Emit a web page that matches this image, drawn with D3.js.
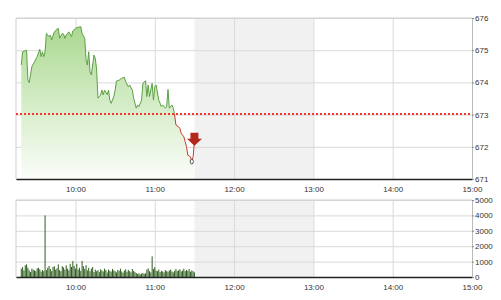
<!DOCTYPE html>
<html>
<head>
<meta charset="utf-8">
<script src="https://cdn.jsdelivr.net/npm/d3@7"></script>
<style>
  body { margin: 0; background: #fff; }
  svg { display: block; font-family: "Liberation Sans", Arial, sans-serif; }
  .tick text { font-size: 8px; fill: #333; }
</style>
</head>
<body>
<div id="chart"></div>
<script>
// price readings, [time, value]
const priceTimes = ["9:19","9:20","9:23","9:24","9:25","9:27","9:29","9:31","9:33","9:34","9:35","9:36","9:37","9:38",
  "9:40","9:41","9:42","9:44","9:46","9:47","9:48","9:50","9:51","9:52","9:53","9:55","9:57","9:58","10:00","10:02",
  "10:04","10:05","10:07","10:08","10:09","10:10","10:11","10:12","10:14","10:15","10:16","10:17","10:19","10:20",
  "10:21","10:22","10:24","10:25","10:26","10:27","10:29","10:30","10:31","10:33","10:35","10:37","10:38","10:40",
  "10:41","10:43","10:44","10:46","10:47","10:48","10:50","10:51","10:53","10:54","10:55","10:56","10:58","10:59",
  "11:00","11:01","11:03","11:05","11:06","11:08","11:09","11:10","11:11","11:13","11:14","11:15","11:16","11:18",
  "11:19","11:20","11:22","11:23","11:24","11:25","11:27","11:28","11:29","11:30"];
const priceValues = [674.54,674.95,675.0,674.07,673.99,674.49,674.64,674.8,675.03,674.8,674.95,674.8,674.95,675.52,
  675.42,675.47,675.32,675.57,675.65,675.68,675.37,675.52,675.5,675.37,675.47,675.57,675.42,675.6,675.68,675.71,
  675.73,675.52,675.37,674.7,674.54,674.95,674.33,674.23,674.85,674.75,674.39,673.51,673.61,673.76,
  673.61,673.76,673.62,673.76,673.45,673.35,673.56,673.76,674.04,674.07,674.13,674.16,674.02,673.86,
  673.92,673.76,673.51,673.2,673.3,673.25,673.45,673.97,674.05,673.56,673.92,673.56,673.97,673.45,
  673.86,673.92,673.45,673.25,673.3,673.2,673.25,673.78,673.2,673.3,673.2,672.99,672.68,672.62,
  672.57,672.42,672.31,672.16,672.0,671.74,671.69,671.54,671.69,672.16];
const refPrice = 673.03;

// volume, one bar per minute from volStart
const volStart = "9:19";
const volumes = [540,650,430,760,820,600,430,320,540,470,430,380,560,600,500,350,450,380,
  4000,
  450,600,720,520,380,650,700,480,560,820,450,380,700,620,480,760,540,430,860,650,
  1040,
  720,540,860,480,600,400,
  1040,
  700,520,760,430,600,380,540,650,320,480,
  380,450,320,500,420,360,540,450,300,480,400,350,520,430,380,300,460,400,540,360,280,420,500,340,460,380,300,520,400,320,
  260,200,240,170,220,260,200,240,
  480,560,380,300,
  1340,
  520,640,420,380,480,320,400,360,300,450,380,340,420,480,360,300,400,520,380,440,500,360,420,540,380,460,400,520,340,420,380,300];

const hourTicks = ["10:00","11:00","12:00","13:00","14:00","15:00"];
const priceTicks = [671,672,673,674,675,676];
const volTicks = [0,1000,2000,3000,4000,5000];
const breakStart = "11:30", breakEnd = "13:00";

const t = s => { const [h, m] = s.split(":").map(Number); return new Date(2017, 0, 1, h, m); };

const width = 501, height = 300;
const left = 16, right = 472;

const svg = d3.select("#chart").append("svg")
  .attr("width", width).attr("height", height);

const x = d3.scaleTime().domain([t("9:15"), t("15:00")]).range([left, right]);
const y = d3.scaleLinear().domain([671, 676]).range([179, 18]);
const yv = d3.scaleLinear().domain([0, 5000]).range([277, 200]);

// frame, lunch shading and grid for one panel
function panel(ys, ticks) {
  const [y0, y1] = ys.range();
  const g = svg.append("g");
  g.append("rect")
    .attr("x", x(t(breakStart))).attr("y", y1)
    .attr("width", x(t(breakEnd)) - x(t(breakStart))).attr("height", y0 - y1)
    .attr("fill", "#f1f1f1");

  g.append("g").attr("transform", `translate(${left},0)`)
    .call(d3.axisLeft(ys).tickValues(ticks).tickSize(-(right - left)).tickFormat(""))
    .call(a => a.select(".domain").remove())
    .selectAll("line").attr("stroke", "#d9d9d9");

  g.append("g").attr("transform", `translate(0,${y0})`)
    .call(d3.axisBottom(x).tickValues(hourTicks.map(t)).tickSize(-(y0 - y1)).tickFormat(""))
    .call(a => a.select(".domain").remove())
    .selectAll("line").attr("stroke", "#d9d9d9");

  g.append("line").attr("x1", left).attr("x2", left).attr("y1", y1).attr("y2", y0).attr("stroke", "#cfcfcf");
  g.append("line").attr("x1", left).attr("x2", right).attr("y1", y1).attr("y2", y1).attr("stroke", "#cfcfcf");
  return g;
}

function axes(ys, ticks, fmt) {
  const [y0] = ys.range();
  const ax = svg.append("g").attr("transform", `translate(0,${y0})`)
    .call(d3.axisBottom(x).tickValues(hourTicks.map(t)).tickSize(0).tickPadding(7.5)
      .tickFormat(d3.timeFormat("%H:%M")));
  ax.select(".domain").attr("stroke", "#222").attr("stroke-width", 1.3);

  const ay = svg.append("g").attr("transform", `translate(${right},0)`)
    .call(d3.axisRight(ys).tickValues(ticks).tickSize(2).tickPadding(1).tickFormat(fmt));
  ay.select(".domain").attr("stroke", "#bbb");
  ay.selectAll("line").attr("stroke", "#888");
}

panel(y, priceTicks);
panel(yv, volTicks);

// price area
const data = priceTimes.map((s, i) => ({ t: t(s), v: priceValues[i] }));

const defs = svg.append("defs");
const grad = defs.append("linearGradient").attr("id", "fillGrad")
  .attr("gradientUnits", "userSpaceOnUse")
  .attr("x1", 0).attr("x2", 0).attr("y1", y(676)).attr("y2", y(671));
grad.append("stop").attr("offset", "0%").attr("stop-color", "#a6d68a");
grad.append("stop").attr("offset", "55%").attr("stop-color", "#d6edc9");
grad.append("stop").attr("offset", "100%").attr("stop-color", "#fbfdf9");

defs.append("clipPath").attr("id", "above").append("rect")
  .attr("x", 0).attr("y", 0).attr("width", width).attr("height", y(refPrice));
defs.append("clipPath").attr("id", "below").append("rect")
  .attr("x", 0).attr("y", y(refPrice)).attr("width", width).attr("height", height);

svg.append("path").datum(data)
  .attr("d", d3.area().x(d => x(d.t)).y0(y(671)).y1(d => y(d.v)))
  .attr("fill", "url(#fillGrad)");

const line = d3.line().x(d => x(d.t)).y(d => y(d.v));
svg.append("path").datum(data).attr("d", line)
  .attr("fill", "none").attr("stroke", "#5c9f45").attr("stroke-width", 1)
  .attr("clip-path", "url(#above)");
svg.append("path").datum(data).attr("d", line)
  .attr("fill", "none").attr("stroke", "#c83a32").attr("stroke-width", 1)
  .attr("clip-path", "url(#below)");

// reference line, snapped to whole pixels so it stays bright red
const refY = Math.round(y(refPrice));
svg.append("line")
  .attr("x1", left).attr("x2", right).attr("y1", refY).attr("y2", refY)
  .attr("stroke", "#f2352f").attr("stroke-width", 2).attr("stroke-dasharray", "2,2")
  .attr("shape-rendering", "crispEdges");

// low marker and last-price arrow
const low = data.reduce((a, b) => (b.v < a.v ? b : a));
svg.append("ellipse").attr("cx", x(low.t)).attr("cy", y(low.v))
  .attr("rx", 1.6).attr("ry", 2.4).attr("fill", "#fff").attr("stroke", "#444").attr("stroke-width", 0.9);

const last = data[data.length - 1];
const ax0 = x(last.t), ay0 = y(last.v);
svg.append("path")
  .attr("d", `M${ax0 - 4},${ay0 - 9} h8 v6 h3.5 L${ax0},${ay0 + 4} L${ax0 - 7.5},${ay0 - 3} h3.5 Z`)
  .attr("fill", "#b3271c");

// volume bars
const vStart = t(volStart);
svg.append("g").selectAll("rect")
  .data(volumes)
  .enter().append("rect")
  .attr("x", (d, i) => x(d3.timeMinute.offset(vStart, i)) - 0.5)
  .attr("width", 1)
  .attr("y", d => yv(d))
  .attr("height", d => yv(0) - yv(d))
  .attr("fill", "#2f5d1f");

axes(y, priceTicks, d3.format("d"));
axes(yv, volTicks, d3.format("d"));
</script>
</body>
</html>
